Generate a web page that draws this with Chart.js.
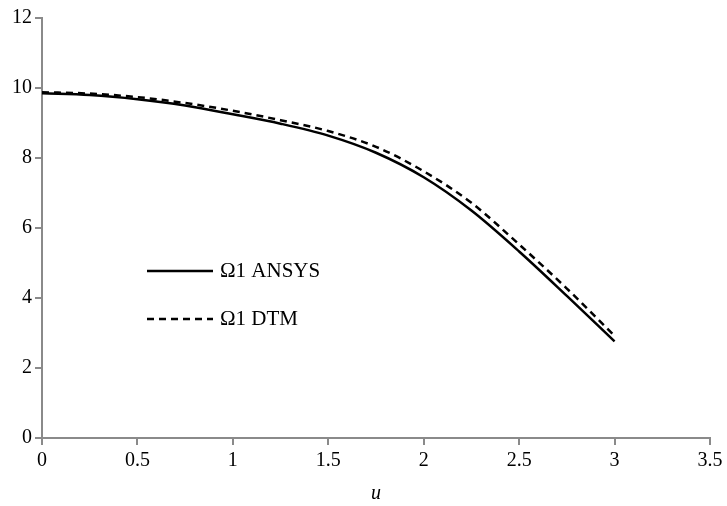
<!DOCTYPE html>
<html>
<head>
<meta charset="utf-8">
<script src="https://cdn.jsdelivr.net/npm/chart.js@4/dist/chart.umd.min.js"></script>
<style>
html,body{margin:0;padding:0;background:#fff;}
#wrap{width:727px;height:506px;}
</style>
</head>
<body>
<div id="wrap"><canvas id="c" width="727" height="506"></canvas></div>
<script>
const xValues = [0, 0.25, 0.5, 0.75, 1.0, 1.25, 1.5, 1.75, 2.0, 2.25, 2.5, 2.75, 3.0];
const ansys = [9.85, 9.8, 9.68, 9.5, 9.25, 8.98, 8.64, 8.15, 7.45, 6.5, 5.33, 4.06, 2.76];
const dtm = [9.88, 9.84, 9.74, 9.57, 9.35, 9.08, 8.77, 8.32, 7.62, 6.72, 5.53, 4.27, 2.92];
const xTicks = [0, 0.5, 1, 1.5, 2, 2.5, 3, 3.5];
const yTicks = [0, 2, 4, 6, 8, 10, 12];
const seriesNames = ['\u03A91 ANSYS', '\u03A91 DTM'];
const xTitle = 'u';

const FONT = '"Liberation Serif", "Times New Roman", serif';
const AXIS = '#8a8a8a';

const legendPlugin = {
  id: 'customLegend',
  afterDraw(chart) {
    const ctx = chart.ctx;
    const rows = [{y: 271, ds: 0}, {y: 319, ds: 1}];
    ctx.save();
    rows.forEach(r => {
      const ds = chart.data.datasets[r.ds];
      ctx.strokeStyle = '#000';
      ctx.lineWidth = 2.5;
      ctx.setLineDash(ds.borderDash || []);
      ctx.beginPath();
      ctx.moveTo(147, r.y);
      ctx.lineTo(213, r.y);
      ctx.stroke();
      ctx.setLineDash([]);
      ctx.fillStyle = '#000';
      ctx.font = '21px ' + FONT;
      ctx.textBaseline = 'middle';
      ctx.textAlign = 'left';
      ctx.fillText(ds.label, 220, r.y);
    });
    ctx.restore();
  }
};

new Chart(document.getElementById('c'), {
  type: 'line',
  data: {
    datasets: [
      {label: seriesNames[0], data: xValues.map((x, i) => ({x, y: ansys[i]})), borderColor: '#000', borderWidth: 2.5, pointRadius: 0, cubicInterpolationMode: 'monotone', fill: false},
      {label: seriesNames[1], data: xValues.map((x, i) => ({x, y: dtm[i]})), borderColor: '#000', borderWidth: 2.5, borderDash: [7, 5], pointRadius: 0, cubicInterpolationMode: 'monotone', fill: false}
    ]
  },
  options: {
    responsive: false,
    animation: false,
    devicePixelRatio: 1,
    layout: {padding: {top: 18, right: 17, bottom: 0, left: 0}},
    plugins: {legend: {display: false}, tooltip: {enabled: false}},
    scales: {
      x: {
        type: 'linear', min: 0, max: 3.5,
        afterBuildTicks: s => { s.ticks = xTicks.map(v => ({value: v})); },
        afterFit: s => { s.height = 68; },
        grid: {drawOnChartArea: false, drawTicks: true, tickLength: 7, color: AXIS, lineWidth: 2},
        border: {color: AXIS, width: 2},
        ticks: {color: '#000', font: {family: FONT, size: 20}, padding: 4, maxRotation: 0, autoSkip: false, callback: v => String(v)},
        title: {display: true, text: xTitle, color: '#000', font: {family: FONT, size: 20, style: 'italic'}, padding: {top: 8, bottom: 0}}
      },
      y: {
        type: 'linear', min: 0, max: 12,
        afterBuildTicks: s => { s.ticks = yTicks.map(v => ({value: v})); },
        afterFit: s => { s.width = 42; },
        grid: {drawOnChartArea: false, drawTicks: true, tickLength: 7, color: AXIS, lineWidth: 2},
        border: {color: AXIS, width: 2},
        ticks: {color: '#000', font: {family: FONT, size: 20}, padding: 3, callback: v => String(v)}
      }
    }
  },
  plugins: [legendPlugin]
});
</script>
</body>
</html>
